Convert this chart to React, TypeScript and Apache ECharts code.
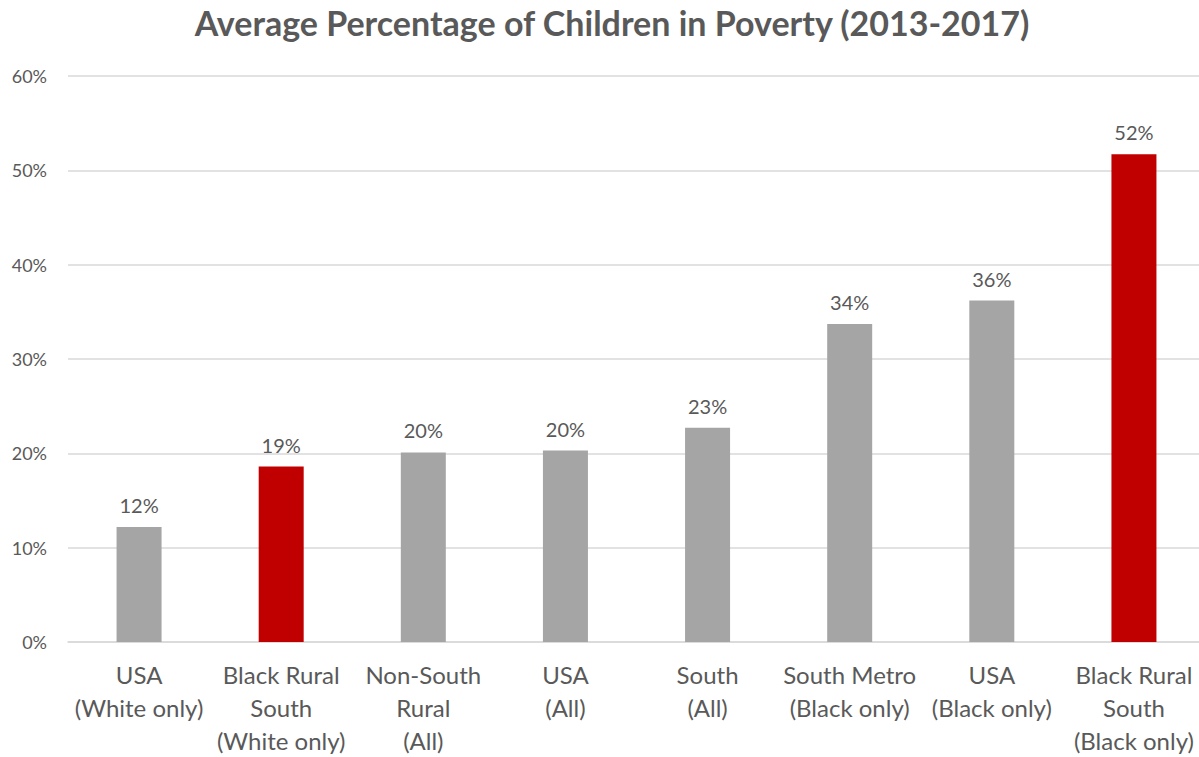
import React, { useEffect, useRef } from "react";
import * as echarts from "echarts";

const categories = [
  "USA\n(White only)",
  "Black Rural\nSouth\n(White only)",
  "Non-South\nRural\n(All)",
  "USA\n(All)",
  "South\n(All)",
  "South Metro\n(Black only)",
  "USA\n(Black only)",
  "Black Rural\nSouth\n(Black only)",
];
const values = [12.2, 18.6, 20.1, 20.3, 22.7, 33.7, 36.2, 51.7];
const highlighted = [false, true, false, false, false, false, false, true];
const yTicks = [0, 10, 20, 30, 40, 50, 60];

const GRAY = "#a5a5a5";
const RED = "#c00000";
const TEXT = "#595959";
const FONT = "Lato, 'Open Sans', sans-serif";

export default function App() {
  const ref = useRef<HTMLDivElement>(null);
  useEffect(() => {
    if (!ref.current) return;
    const chart = echarts.init(ref.current, undefined, { renderer: "svg" });
    chart.setOption({
      animation: false,
      backgroundColor: "#ffffff",
      title: {
        text: "Average Percentage of Children in Poverty (2013-2017)",
        left: 607,
        textAlign: "center",
        top: 0,
        textStyle: { fontFamily: FONT, fontSize: 34, fontWeight: "bold", color: TEXT },
      },
      grid: { left: 68, right: 0, top: 76, bottom: 104, containLabel: false },
      xAxis: {
        type: "category",
        data: categories,
        axisLine: { show: true, lineStyle: { color: "#d9d9d9", width: 1.5 } },
        axisTick: { show: false },
        axisLabel: {
          interval: 0,
          margin: 16,
          fontFamily: FONT,
          fontSize: 24,
          lineHeight: 33,
          color: TEXT,
        },
      },
      yAxis: {
        type: "value",
        min: yTicks[0],
        max: yTicks[yTicks.length - 1],
        interval: 10,
        axisLine: { show: false },
        axisTick: { show: false },
        splitLine: { lineStyle: { color: "#d9d9d9", width: 1.5 } },
        axisLabel: {
          formatter: (v: number) => `${v}%`,
          fontFamily: FONT,
          fontSize: 18,
          color: TEXT,
          margin: 21,
        },
      },
      series: [
        {
          type: "bar",
          barWidth: 45,
          data: values.map((v, i) => ({
            value: v,
            itemStyle: { color: highlighted[i] ? RED : GRAY },
          })),
          label: {
            show: true,
            position: "top",
            distance: 12,
            formatter: (p: any) => `${Math.round(p.value)}%`,
            fontFamily: FONT,
            fontSize: 20,
            color: TEXT,
          },
        },
      ],
    });
    return () => chart.dispose();
  }, []);
  return (
    <div style={{ position: "fixed", left: 0, top: 0, width: 1199, height: 757, overflow: "hidden", background: "#fff" }}>
      <div ref={ref} style={{ width: 1205, height: 757 }} />
    </div>
  );
}
